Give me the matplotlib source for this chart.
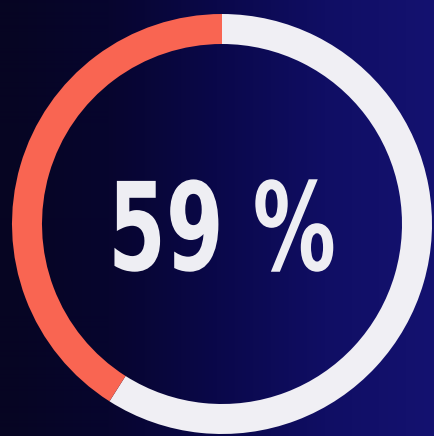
import matplotlib.pyplot as plt
import numpy as np
from matplotlib.patheffects import AbstractPathEffect
from matplotlib.transforms import Affine2D

# gauge data
labels = ['done', 'rest']
values = [59, 41]
colors = ['#f0eff4', '#f96552']
center_text = '59 %'

W, H = 434, 436
CX, CY = 222, H - 224


class Squeeze(AbstractPathEffect):
    # narrow the glyphs around a vertical line, to imitate a condensed font
    def __init__(self, ax, sx, x0):
        super().__init__()
        self.ax, self.sx, self.x0 = ax, sx, x0

    def draw_path(self, renderer, gc, tpath, affine, rgbFace=None):
        xd = self.ax.transData.transform((self.x0, 0))[0]
        t = affine + Affine2D().translate(-xd, 0).scale(self.sx, 1).translate(xd, 0)
        renderer.draw_path(gc, tpath, t, rgbFace)


fig = plt.figure(figsize=(W / 100, H / 100), dpi=100)
ax = fig.add_axes([0, 0, 1, 1])

# dark navy background, darker at the left
bg_cols = np.array([
    [6, 5, 34],
    [7, 5, 46],
    [10, 8, 74],
    [16, 14, 100],
    [20, 18, 112],
]) / 255.0
xs = np.linspace(0, 1, W)
stops = np.linspace(0, 1, len(bg_cols))
grad = np.stack([np.interp(xs, stops, bg_cols[:, k]) for k in range(3)], axis=-1)
grad = np.tile(grad[None, :, :], (H, 1, 1))
ax.imshow(grad, extent=(0, W, 0, H), aspect='auto', zorder=0)

ax.pie(values, colors=colors, startangle=90, counterclock=False,
       radius=210, center=(CX, CY),
       wedgeprops=dict(width=30, linewidth=0))

ax.text(CX, H - 270, center_text, ha='center', va='baseline',
        fontsize=88, fontweight='bold', color='#eeeef3',
        fontfamily='DejaVu Sans', zorder=5,
        path_effects=[Squeeze(ax, 0.68, CX)])

ax.set_xlim(0, W)
ax.set_ylim(0, H)
ax.set_aspect('auto')
ax.axis('off')

fig.savefig('out.png', dpi=100)
